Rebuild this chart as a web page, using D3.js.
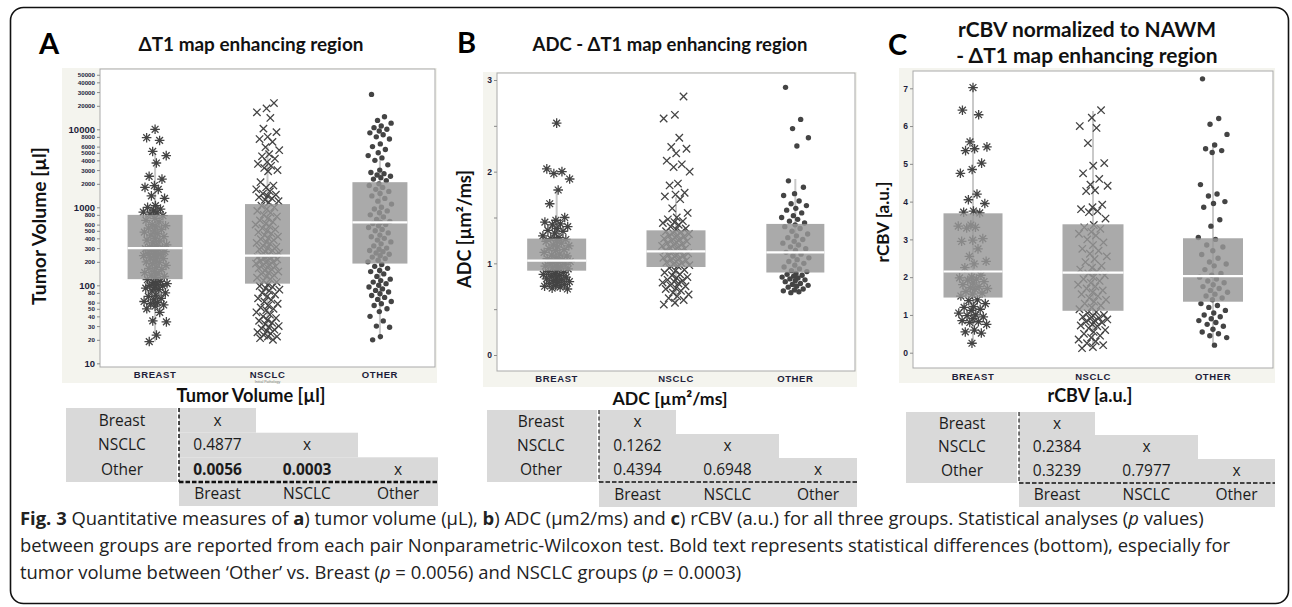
<!DOCTYPE html>
<html><head><meta charset="utf-8">
<script src="https://cdn.jsdelivr.net/npm/d3@7"></script>
<style>body{margin:0;background:#fff} svg{display:block}</style>
</head><body>
<svg id="fig" width="1292" height="607"></svg>
<script>
// ---------------- DATA ----------------
const categories = ["BREAST", "NSCLC", "OTHER"];
const groupNames = ["Breast", "NSCLC", "Other"];

// Panel A: tumor volume [µl]
const volBreast = [10000,7800,7200,5200,4600,3700,2500,2300,1900,1800,1700,1400,1300,1050,1000,950,900,870,850,820,
  780,720,680,650,600,580,560,540,520,500,480,460,440,420,400,380,370,350,330,320,310,300,300,295,290,280,270,260,255,250,245,240,230,225,220,210,200,195,190,180,170,165,160,150,145,140,135,130,125,
  118,112,108,105,102,100,98,95,92,88,85,80,75,72,68,65,62,60,58,56,54,50,45,35,34,23,19];
const volNSCLC = [21700,18500,16500,14000,10200,9200,8000,7500,6900,5900,5400,4800,4500,4200,3800,3600,3400,3200,3000,2900,2100,1900,1800,1700,1600,1500,1450,1400,1350,1300,1250,1200,1150,
  1050,1000,950,900,850,800,760,720,680,650,620,600,570,540,520,500,480,460,440,420,400,390,380,360,350,340,320,310,300,290,280,270,260,250,245,240,235,230,225,220,215,210,205,200,195,190,185,180,175,170,165,160,155,150,145,140,135,130,125,120,115,110,
  102,98,95,92,88,85,80,76,72,68,65,62,58,55,52,50,48,45,42,40,38,36,35,33,32,30,29,28,27,26,25,24,23,22,22,21,20];
const volOther = [28000,14500,13000,12000,11000,10500,10000,9500,9000,8500,8000,7500,6500,6000,5500,5000,4600,4300,4000,3500,3000,2800,2700,2600,2500,2400,2300,2200,
  2000,1900,1800,1700,1600,1500,1400,1300,1200,1100,1000,950,900,850,800,750,700,660,640,620,600,580,550,520,500,470,440,420,400,380,360,340,320,300,290,280,270,260,250,240,230,220,210,200,
  185,175,165,155,150,140,130,120,115,110,105,100,95,90,86,82,78,74,70,66,62,58,55,50,46,40,35,30,29,22,20];
const volQ1 = [120, 105, 190];
const volMedian = [300, 240, 640];
const volQ3 = [800, 1100, 2100];
const volWhiskerLow = [19, 20, 20];
const volWhiskerHigh = [5000, 6000, 4000];
const volTicks = [10,20,30,40,50,60,80,100,200,300,400,500,600,800,1000,2000,3000,4000,5000,6000,8000,10000,20000,30000,40000,50000];

// Panel B: ADC [µm²/ms]
const adcBreast = [2.53,2.03,2.0,1.98,1.92,1.8,1.65,1.5,1.47,1.45,1.43,1.42,1.4,1.38,1.36,1.35,1.33,1.3,1.28,
  1.27,1.26,1.25,1.24,1.22,1.2,1.19,1.18,1.16,1.15,1.14,1.12,1.1,1.09,1.08,1.06,1.05,1.04,1.03,1.02,1.01,1.0,0.99,0.98,0.97,0.96,0.95,0.94,0.93,
  0.91,0.9,0.89,0.88,0.87,0.86,0.85,0.84,0.83,0.82,0.81,0.8,0.79,0.78,0.77,0.76,0.75,0.74,0.73,0.72];
const adcNSCLC = [2.82,2.62,2.58,2.37,2.27,2.25,2.2,2.12,2.08,2.05,2.0,1.87,1.85,1.77,1.75,1.73,1.7,1.6,1.55,1.5,1.48,1.46,1.45,1.44,1.42,1.4,1.38,1.37,
  1.35,1.34,1.33,1.32,1.31,1.3,1.29,1.28,1.27,1.26,1.25,1.24,1.23,1.22,1.21,1.2,1.19,1.18,1.17,1.16,1.15,1.14,1.13,1.12,1.11,1.1,1.09,1.08,1.07,1.06,1.05,1.04,1.03,1.02,1.01,1.0,0.99,0.98,0.97,
  0.95,0.93,0.92,0.9,0.88,0.87,0.85,0.84,0.82,0.81,0.8,0.79,0.78,0.76,0.75,0.73,0.72,0.7,0.68,0.66,0.64,0.62,0.6,0.57,0.55];
const adcOther = [2.92,2.57,2.47,2.37,2.28,1.9,1.83,1.76,1.74,1.68,1.65,1.63,1.6,1.58,1.55,1.52,1.5,1.48,1.46,1.44,
  1.42,1.4,1.38,1.35,1.32,1.3,1.28,1.26,1.24,1.22,1.2,1.18,1.16,1.14,1.12,1.1,1.08,1.06,1.04,1.02,1.0,0.98,0.96,0.94,0.92,0.91,
  0.89,0.88,0.87,0.86,0.85,0.84,0.83,0.82,0.81,0.8,0.78,0.77,0.76,0.75,0.74,0.72,0.71,0.7,0.69,0.68];
const adcQ1 = [0.92, 0.96, 0.90];
const adcMedian = [1.03, 1.13, 1.12];
const adcQ3 = [1.27, 1.36, 1.43];
const adcWhiskerLow = [0.72, 0.55, 0.68];
const adcWhiskerHigh = [1.8, 1.72, 1.92];
const adcTicks = [0, 0.5, 1, 1.5, 2, 2.5, 3];

// Panel C: rCBV [a.u.]
const rcbvBreast = [7.02,6.42,6.3,5.58,5.45,5.4,5.35,5.02,4.85,4.75,4.2,4.05,3.95,3.75,3.72,3.7,
  3.38,3.35,3.32,3.3,3.02,2.98,2.95,2.75,2.55,2.42,2.35,2.25,2.05,2.0,1.98,1.95,1.92,1.88,1.85,1.8,1.75,1.72,1.7,1.68,1.62,1.58,1.55,1.5,
  1.4,1.38,1.3,1.22,1.2,1.15,1.12,1.05,1.0,0.98,0.95,0.9,0.85,0.82,0.8,0.75,0.6,0.55,0.52,0.25];
const rcbvNSCLC = [6.42,6.22,6.0,5.95,5.55,5.02,4.95,4.75,4.6,4.45,4.42,4.3,4.28,3.92,3.85,3.8,3.75,3.72,3.55,
  3.38,3.32,3.28,3.2,3.15,3.1,3.0,2.92,2.85,2.75,2.7,2.62,2.55,2.48,2.4,2.3,2.25,2.2,2.15,2.1,2.05,2.0,1.95,1.9,1.85,1.8,1.75,1.7,1.65,1.6,1.55,1.5,1.45,1.4,1.35,1.3,1.25,1.2,1.15,
  1.08,1.05,1.0,0.98,0.95,0.92,0.9,0.88,0.85,0.82,0.8,0.75,0.72,0.7,0.65,0.6,0.55,0.5,0.45,0.4,0.35,0.3,0.25,0.2,0.15,0.12];
const rcbvOther = [7.25,6.2,6.05,5.78,5.5,5.4,5.35,5.3,4.45,4.2,4.15,4.0,3.95,3.85,3.52,3.35,3.05,
  3.0,2.85,2.8,2.7,2.6,2.5,2.4,2.35,2.3,2.2,2.1,2.05,2.0,1.95,1.9,1.85,1.8,1.75,1.7,1.65,1.6,1.55,1.5,1.45,1.4,
  1.3,1.25,1.2,1.12,1.05,1.0,0.95,0.9,0.85,0.8,0.75,0.7,0.62,0.55,0.5,0.45,0.4,0.2];
const rcbvQ1 = [1.46, 1.11, 1.35];
const rcbvMedian = [2.15, 2.12, 2.03];
const rcbvQ3 = [3.69, 3.40, 3.03];
const rcbvWhiskerLow = [0.25, 0.1, 0.2];
const rcbvWhiskerHigh = [7.0, 6.4, 5.55];
const rcbvTicks = [0, 1, 2, 3, 4, 5, 6, 7];

// p-value tables (Nonparametric Wilcoxon, lower triangle)
const pTumor = [["x"], ["0.4877", "x"], ["0.0056", "0.0003", "x"]];
const pADC   = [["x"], ["0.1262", "x"], ["0.4394", "0.6948", "x"]];
const pRCBV  = [["x"], ["0.2384", "x"], ["0.3239", "0.7977", "x"]];

// ---------------- DRAWING ----------------
const svg = d3.select("#fig");
const INK = "#1c1c1c";
const PT = "#444444";
const TFONT = "Lato, 'Open Sans', sans-serif";

function fit(sel, w) {
  const L = sel.node().getComputedTextLength();
  const fs = parseFloat(sel.attr("font-size"));
  sel.attr("font-size", fs * w / L);
  return fs * w / L;
}

svg.append("rect").attr("x", 10.5).attr("y", 7.5).attr("width", 1278).attr("height", 596)
  .attr("rx", 13).attr("fill", "none").attr("stroke", "#111").attr("stroke-width", 1.6);

const markers = {
  star: "M-4.8,0H4.8M0,-4.8V4.8M-3.4,-3.4L3.4,3.4M-3.4,3.4L3.4,-3.4",
  cross: "M-3.7,-3.7L3.7,3.7M-3.7,3.7L3.7,-3.7"
};
const markerKind = ["star", "cross", "dot"];

// deterministic jitter layout (golden-ratio sequence, denser toward the centre)
function jit(i, k) {
  const u = (i * 0.6180339887 + 0.31 * k + 0.5) % 1;
  const s = 2 * u - 1;
  return Math.sign(s) * Math.pow(Math.abs(s), 1.3);
}

function panel(cfg) {
  const g = svg.append("g");
  g.append("rect").attr("x", cfg.frame[0]).attr("y", cfg.frame[1]).attr("width", cfg.frame[2]).attr("height", cfg.frame[3]).attr("fill", "#f4f4ee");
  const [px, py, pw, ph] = cfg.plot;
  g.append("rect").attr("x", px).attr("y", py).attr("width", pw).attr("height", ph)
    .attr("fill", "#fff").attr("stroke", "#a9a9a9").attr("stroke-width", 1);

  const x = d3.scalePoint().domain(categories).range([px, px + pw]).padding(cfg.pad);
  const y = cfg.y.range([py + ph, py]);

  const inner = g.append("g");
  categories.forEach((c, k) => {
    inner.append("line").attr("x1", x(c)).attr("x2", x(c))
      .attr("y1", y(cfg.wlo[k])).attr("y2", y(cfg.whi[k]))
      .attr("stroke", "#c9c9c9").attr("stroke-width", 2);
  });
  cfg.series.forEach((vals, k) => {
    const cx = x(categories[k]);
    const kind = markerKind[k];
    vals.forEach((v, i) => {
      const xx = cx + jit(i, k) * cfg.spread;
      const yy = y(v);
      if (kind === "dot") {
        inner.append("circle").attr("cx", xx).attr("cy", yy).attr("r", 2.7).attr("fill", PT);
      } else {
        inner.append("path").attr("d", markers[kind]).attr("transform", `translate(${xx},${yy})`)
          .attr("fill", "none").attr("stroke", PT).attr("stroke-width", 1.3);
      }
    });
  });
  categories.forEach((c, k) => {
    const bw = cfg.bw[k];
    inner.append("rect").attr("x", x(c) - bw / 2).attr("width", bw)
      .attr("y", y(cfg.q3[k])).attr("height", y(cfg.q1[k]) - y(cfg.q3[k]))
      .attr("fill", "#979797").attr("fill-opacity", 0.82);
    inner.append("line").attr("x1", x(c) - bw / 2).attr("x2", x(c) + bw / 2)
      .attr("y1", y(cfg.med[k])).attr("y2", y(cfg.med[k]))
      .attr("stroke", "#fff").attr("stroke-width", 2.2);
  });

  const ax = g.append("g").attr("transform", `translate(${px},0)`)
    .call(d3.axisLeft(y).tickValues(cfg.ticks).tickFormat(cfg.fmt).tickSize(3).tickPadding(2));
  ax.select(".domain").remove();
  ax.selectAll(".tick line").attr("stroke", "#8a8a8a");
  ax.selectAll(".tick text").attr("font-family", "Liberation Sans, Arial, sans-serif")
    .attr("font-weight", "bold").attr("fill", "#1d1d3a")
    .attr("font-size", d => cfg.tickSize(d));

  categories.forEach((c, k) => {
    g.append("text").attr("x", x(c)).attr("y", cfg.catY).attr("text-anchor", "middle")
      .attr("font-family", "Liberation Sans, Arial, sans-serif").attr("font-weight", "bold")
      .attr("font-size", 9.5).attr("letter-spacing", 0.6).attr("fill", "#1d1d3a").text(c);
  });
  if (cfg.subLabel) {
    g.append("text").attr("x", x("NSCLC")).attr("y", cfg.catY + 5).attr("text-anchor", "middle")
      .attr("font-family", "Liberation Sans, Arial, sans-serif").attr("font-size", 3.6)
      .attr("fill", "#777").text(cfg.subLabel);
  }

  g.append("text").attr("x", cfg.letter[0]).attr("y", cfg.letter[1])
    .attr("font-family", TFONT).attr("font-weight", "bold")
    .attr("font-size", 29).attr("fill", "#000").text(cfg.letterText);

  const tts = cfg.titles.map(t => g.append("text").attr("x", t.x).attr("y", t.y).attr("text-anchor", "middle")
      .attr("font-family", TFONT).attr("font-weight", "bold")
      .attr("font-size", 17).attr("fill", "#111").text(t.text));
  const sizes = tts.map((tt, j) => fit(tt, cfg.titles[j].w));
  if (tts.length > 1) {
    const s = d3.mean(sizes);
    tts.forEach(tt => tt.attr("font-size", s));
  }
  const yt = g.append("text").attr("transform", `translate(${cfg.yTitle.x},${cfg.yTitle.y}) rotate(-90)`)
    .attr("text-anchor", "middle").attr("dy", "0.35em")
    .attr("font-family", TFONT).attr("font-weight", "bold")
    .attr("font-size", 17).attr("fill", "#111").text(cfg.yTitle.text);
  fit(yt, cfg.yTitle.w);
  const xt = g.append("text").attr("x", cfg.xTitle.x).attr("y", cfg.xTitle.y).attr("text-anchor", "middle")
    .attr("font-family", TFONT).attr("font-weight", "bold")
    .attr("font-size", 17).attr("fill", "#111").text(cfg.xTitle.text);
  fit(xt, cfg.xTitle.w);
}

panel({
  frame: [62, 68, 375, 315], plot: [100, 69, 335, 298], pad: 0.49,
  y: d3.scaleLog().domain([8.97, 59300]),
  series: [volBreast, volNSCLC, volOther], spread: 12,
  q1: volQ1, med: volMedian, q3: volQ3, wlo: volWhiskerLow, whi: volWhiskerHigh,
  bw: [55, 45, 55],
  ticks: volTicks, fmt: d => String(d),
  tickSize: d => ([10, 100, 1000, 10000].includes(d) ? 9.5 : 6.2),
  catY: 378, subLabel: "Initial Pathology",
  letter: [39, 54], letterText: "A",
  titles: [{ text: "ΔT1 map enhancing region", x: 251, y: 51, w: 225 }],
  yTitle: { text: "Tumor Volume [µl]", x: 39, y: 226, w: 158 },
  xTitle: { text: "Tumor Volume [µl]", x: 251, y: 402, w: 149 }
});
panel({
  frame: [483, 72, 374, 315], plot: [497, 73, 358, 298], pad: 0.5,
  y: d3.scaleLinear().domain([-0.1745, 3.0764]),
  series: [adcBreast, adcNSCLC, adcOther], spread: 14,
  q1: adcQ1, med: adcMedian, q3: adcQ3, wlo: adcWhiskerLow, whi: adcWhiskerHigh,
  bw: [59, 59, 58],
  ticks: adcTicks, fmt: d => (Number.isInteger(d) ? String(d) : ""),
  tickSize: () => 8.5,
  catY: 382,
  letter: [457, 53], letterText: "B",
  titles: [{ text: "ADC - ΔT1 map enhancing region", x: 670, y: 51, w: 275 }],
  yTitle: { text: "ADC [µm²/ms]", x: 465, y: 229, w: 118 },
  xTitle: { text: "ADC [µm²/ms]", x: 670, y: 405, w: 115 }
});
panel({
  frame: [899, 68, 376, 315], plot: [913, 71, 360, 297], pad: 0.5,
  y: d3.scaleLinear().domain([-0.405, 7.458]),
  series: [rcbvBreast, rcbvNSCLC, rcbvOther], spread: 15,
  q1: rcbvQ1, med: rcbvMedian, q3: rcbvQ3, wlo: rcbvWhiskerLow, whi: rcbvWhiskerHigh,
  bw: [59, 61, 60],
  ticks: rcbvTicks, fmt: d => String(d),
  tickSize: () => 8.5,
  catY: 380,
  letter: [888, 55], letterText: "C",
  titles: [{ text: "rCBV normalized to NAWM", x: 1087, y: 37, w: 228 },
           { text: "- ΔT1 map enhancing region", x: 1087, y: 63, w: 292 }],
  yTitle: { text: "rCBV [a.u.]", x: 883, y: 222, w: 81 },
  xTitle: { text: "rCBV [a.u.]", x: 1090, y: 402, w: 85 }
});

// ---------------- TABLES ----------------
function table(cfg) {
  const g = svg.append("g");
  const GRAY = "#d9d9d9";
  const [r0, r1, r2, r3, r4] = cfg.rowY;
  const ce = cfg.colEdges;
  const rowsY = [r0, r1, r2, r3];
  g.append("rect").attr("x", cfg.labelX[0]).attr("y", r0).attr("width", cfg.labelX[1] - cfg.labelX[0]).attr("height", r3 - r0).attr("fill", GRAY);
  for (let r = 0; r < 3; r++) {
    g.append("rect").attr("x", ce[0]).attr("y", rowsY[r]).attr("width", ce[r + 1] - ce[0]).attr("height", rowsY[r + 1] - rowsY[r]).attr("fill", GRAY);
  }
  g.append("rect").attr("x", ce[0]).attr("y", r3).attr("width", ce[3] - ce[0]).attr("height", r4 - r3).attr("fill", GRAY);

  const font = "'Open Sans', 'Noto Sans', sans-serif";
  const lc = cfg.labelCenter;
  groupNames.forEach((n, r) => {
    g.append("text").attr("x", lc).attr("y", (rowsY[r] + rowsY[r + 1]) / 2).attr("dy", "0.35em")
      .attr("text-anchor", "middle").attr("font-family", font).attr("font-size", 15.5).attr("fill", INK).text(n);
    g.append("text").attr("x", (ce[r] + ce[r + 1]) / 2).attr("y", (r3 + r4) / 2).attr("dy", "0.35em")
      .attr("text-anchor", "middle").attr("font-family", font).attr("font-size", 15.5).attr("fill", INK).text(n);
  });
  cfg.values.forEach((row, r) => {
    row.forEach((v, c) => {
      const sig = v !== "x" && +v < 0.05;
      g.append("text").attr("x", (ce[c] + ce[c + 1]) / 2).attr("y", (rowsY[r] + rowsY[r + 1]) / 2).attr("dy", "0.35em")
        .attr("text-anchor", "middle").attr("font-family", font).attr("font-size", 15.5)
        .attr("font-weight", sig ? "bold" : "normal").attr("fill", INK).text(v);
    });
  });
  g.append("line").attr("x1", ce[0]).attr("x2", ce[0]).attr("y1", r0).attr("y2", r3)
    .attr("stroke", "#111").attr("stroke-width", cfg.vW).attr("stroke-dasharray", "4,2.5");
  g.append("line").attr("x1", ce[0]).attr("x2", ce[3]).attr("y1", r3).attr("y2", r3)
    .attr("stroke", "#111").attr("stroke-width", cfg.hW).attr("stroke-dasharray", "4.5,2");
}
table({ labelX: [66, 177], labelCenter: 122, colEdges: [179, 256, 358, 438], rowY: [408, 432.7, 457.3, 482, 506], values: pTumor, vW: 1.5, hW: 2.6 });
table({ labelX: [487, 597], labelCenter: 541, colEdges: [599, 676, 779, 857], rowY: [410, 434, 458, 482, 507], values: pADC, vW: 1.1, hW: 1.6 });
table({ labelX: [906, 1017], labelCenter: 962, colEdges: [1019, 1095, 1198, 1275], rowY: [412, 435, 459, 483, 507], values: pRCBV, vW: 1.1, hW: 1.6 });

// ---------------- CAPTION ----------------
const capFont = "'Open Sans', 'Noto Sans', sans-serif";
const capLines = [
  [["Fig. 3", "b"], [" Quantitative measures of ", ""], ["a", "b"], [") tumor volume (µL), ", ""], ["b", "b"], [") ADC (µm2/ms) and ", ""], ["c", "b"], [") rCBV (a.u.) for all three groups. Statistical analyses (", ""], ["p", "i"], [" values)", ""]],
  [["between groups are reported from each pair Nonparametric-Wilcoxon test. Bold text represents statistical differences (bottom), especially for", ""]],
  [["tumor volume between \u2018Other\u2019 vs. Breast (", ""], ["p", "i"], [" = 0.0056) and NSCLC groups (", ""], ["p", "i"], [" = 0.0003)", ""]]
];
const capY = [525, 552, 579];
const capTexts = capLines.map((parts, li) => {
  const t = svg.append("text").attr("x", 20).attr("y", capY[li]).attr("font-family", capFont)
    .attr("font-size", 16).attr("fill", "#222");
  parts.forEach(([s, st]) => {
    t.append("tspan").attr("font-weight", st === "b" ? "bold" : "normal")
      .attr("font-style", st === "i" ? "italic" : "normal").text(s);
  });
  return t;
});
const L0 = capTexts[0].node().getComputedTextLength();
const capSize = 16 * 1185 / L0;
capTexts.forEach(t => t.attr("font-size", capSize));
</script>
</body></html>
